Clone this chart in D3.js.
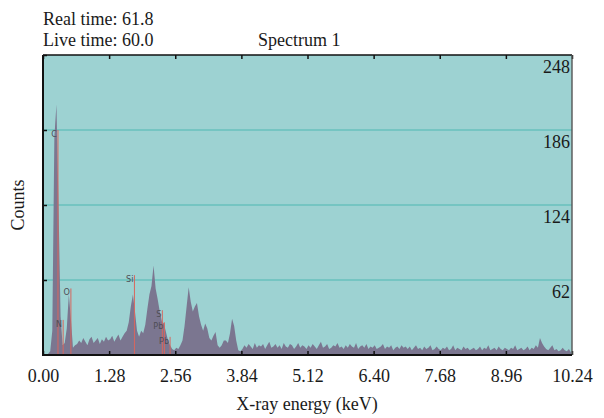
<!DOCTYPE html>
<html>
<head>
<meta charset="utf-8">
<script src="https://cdn.jsdelivr.net/npm/d3@7"></script>
<style>
  html, body { margin: 0; padding: 0; background: #fff; overflow: hidden; }
  svg { display: block; }
</style>
</head>
<body>
<svg width="604" height="418"></svg>
<script>
// spectrum counts, one value per 0.04 keV channel (0 - 10.24 keV)
const counts = [
  0, 0, 1, 3, 20, 180, 207, 125, 32, 8, 10, 22, 50, 30, 6, 8,
  9, 12, 10, 14, 11, 8, 13, 15, 10, 12, 14, 9, 13, 11, 15, 12,
  13, 16, 11, 14, 17, 12, 15, 18, 20, 27, 40, 50, 36, 20, 15, 20,
  18, 25, 38, 50, 57, 74, 55, 46, 36, 28, 26, 19, 12, 8, 5, 4,
  6, 5, 8, 12, 24, 40, 56, 44, 36, 40, 43, 32, 25, 20, 26, 22,
  14, 12, 16, 19, 8, 6, 8, 12, 12, 10, 18, 30, 24, 12, 4, 3,
  5, 8, 6, 9, 7, 5, 10, 6, 8, 7, 9, 5, 8, 11, 6, 7,
  9, 6, 8, 5, 10, 7, 6, 9, 8, 5, 7, 10, 6, 8, 7, 5,
  8, 6, 9, 7, 5, 8, 11, 6, 7, 9, 5, 6, 8, 7, 10, 6,
  7, 5, 8, 6, 9, 7, 6, 10, 5, 7, 8, 6, 9, 5, 7, 6,
  8, 5, 6, 7, 9, 5, 7, 6, 8, 4, 6, 7, 5, 8, 6, 7,
  5, 7, 4, 6, 8, 5, 6, 4, 7, 5, 6, 8, 4, 5, 7, 5,
  4, 6, 5, 7, 4, 5, 8, 4, 6, 5, 4, 7, 5, 6, 4, 5,
  6, 4, 5, 7, 4, 6, 5, 8, 4, 5, 6, 4, 7, 5, 4, 6,
  5, 4, 6, 5, 8, 4, 5, 6, 4, 5, 7, 4, 6, 5, 8, 6,
  14, 10, 7, 5, 4, 6, 8, 4, 5, 3, 4, 6, 4, 3, 5, 2
];
const channelWidth = 0.04; // keV

// element marker lines
const elements = ['C', 'N', 'O', 'Si', 'S', 'Pb', 'Pb'];
const elementEnergy = [0.29, 0.39, 0.54, 1.77, 2.31, 2.35, 2.46];
const elementHeight = [186, 29, 55, 66, 37, 27, 15];

const xTicks = [0, 1.28, 2.56, 3.84, 5.12, 6.40, 7.68, 8.96, 10.24];
const yTicks = [62, 124, 186, 248];

const svg = d3.select('svg');
const margin = { top: 55, right: 32, bottom: 63, left: 43 };
const width = +svg.attr('width');
const height = +svg.attr('height');
const innerWidth = width - margin.left - margin.right;
const innerHeight = height - margin.top - margin.bottom;
const serif = 'Liberation Serif, serif';
const fontSize = 18;

const xScale = d3.scaleLinear().domain([0, 10.24]).range([0, innerWidth]);
const yScale = d3.scaleLinear().domain([0, 248]).range([innerHeight, 0]);

const g = svg.append('g')
  .attr('transform', `translate(${margin.left}, ${margin.top})`);

// plot background
g.append('rect')
  .attr('width', innerWidth)
  .attr('height', innerHeight)
  .attr('fill', '#9dd2d2');

// horizontal grid
g.selectAll('.grid').data(yTicks.slice(0, -1))
  .enter().append('line')
  .attr('x1', 0).attr('x2', innerWidth)
  .attr('y1', d => yScale(d)).attr('y2', d => yScale(d))
  .attr('stroke', '#4eb8b2')
  .attr('stroke-width', 1.2);

// spectrum
const data = counts.map((c, i) => ({ e: (i + 0.5) * channelWidth, c }));
const area = d3.area()
  .x(d => xScale(d.e))
  .y0(yScale(0))
  .y1(d => yScale(d.c));
g.append('path')
  .datum(data)
  .attr('d', area)
  .attr('fill', '#7b7690');

// element markers
const marks = elements.map((el, i) => ({ el, e: elementEnergy[i], h: elementHeight[i] }));
g.selectAll('.mark').data(marks)
  .enter().append('line')
  .attr('x1', d => xScale(d.e)).attr('x2', d => xScale(d.e))
  .attr('y1', yScale(0)).attr('y2', d => yScale(d.h))
  .attr('stroke', '#d8665e')
  .attr('stroke-width', 1);
g.selectAll('.elem').data(marks)
  .enter().append('text')
  .attr('font-family', 'Liberation Sans Narrow, DejaVu Sans Condensed, sans-serif')
  .attr('font-size', 9)
  .attr('fill', '#4d4d55')
  .attr('x', d => xScale(d.e) - 1)
  .attr('y', d => yScale(d.h) + 7)
  .attr('text-anchor', 'end')
  .text(d => d.el);

// x axis, ticks pointing inward
const xAxis = d3.axisBottom(xScale)
  .tickValues(xTicks)
  .tickFormat(d3.format('.2f'))
  .tickSize(-4)
  .tickPadding(14);
const xAxisG = g.append('g')
  .attr('transform', `translate(0, ${innerHeight})`)
  .call(xAxis)
  .attr('font-size', fontSize)
  .attr('font-family', serif);
xAxisG.select('.domain').remove();
xAxisG.selectAll('.tick line').attr('stroke', '#111').attr('stroke-width', 1.5);
xAxisG.selectAll('.tick text').attr('fill', '#1a1a1a');

// top ticks (no labels)
const topG = g.append('g')
  .call(d3.axisTop(xScale).tickValues(xTicks).tickSize(-4));
topG.selectAll('.domain, .tick text').remove();
topG.selectAll('.tick line').attr('stroke', '#111').attr('stroke-width', 1.5);

// left ticks (no labels)
const leftG = g.append('g')
  .call(d3.axisLeft(yScale).tickValues(yTicks).tickSize(-4));
leftG.selectAll('.domain, .tick text').remove();
leftG.selectAll('.tick line').attr('stroke', '#111').attr('stroke-width', 1.5);

// y labels sit inside the plot, under each grid line
const rightG = g.append('g')
  .attr('transform', `translate(${innerWidth}, 0)`)
  .call(d3.axisLeft(yScale).tickValues(yTicks).tickSize(0).tickPadding(2))
  .attr('font-size', fontSize)
  .attr('font-family', serif);
rightG.select('.domain').remove();
rightG.selectAll('.tick text').attr('dy', 17).attr('fill', '#1a1a1a');

// frame
g.append('line').attr('x1', 0).attr('x2', innerWidth).attr('y1', 0).attr('y2', 0)
  .attr('stroke', '#111').attr('stroke-width', 1.6);
g.append('line').attr('x1', innerWidth).attr('x2', innerWidth).attr('y1', 0).attr('y2', innerHeight)
  .attr('stroke', '#555').attr('stroke-width', 1.4);
g.append('line').attr('x1', 0).attr('x2', 0).attr('y1', 0).attr('y2', innerHeight + 1)
  .attr('stroke', '#111').attr('stroke-width', 2);
g.append('line').attr('x1', 0).attr('x2', innerWidth).attr('y1', innerHeight).attr('y2', innerHeight)
  .attr('stroke', '#111').attr('stroke-width', 2);

// labels
const label = (x, y, txt, anchor) => svg.append('text')
  .attr('x', x).attr('y', y)
  .attr('text-anchor', anchor)
  .attr('font-family', serif)
  .attr('font-size', fontSize)
  .attr('fill', '#1a1a1a')
  .text(txt);

label(307, 410, 'X-ray energy (keV)', 'middle');
label(0, 0, 'Counts', 'middle')
  .attr('transform', `translate(24, ${margin.top + innerHeight / 2}) rotate(-90)`);
label(258, 46, 'Spectrum 1', 'start');
label(43, 25, 'Real time: 61.8', 'start');
label(43, 46, 'Live time: 60.0', 'start');
</script>
</body>
</html>
